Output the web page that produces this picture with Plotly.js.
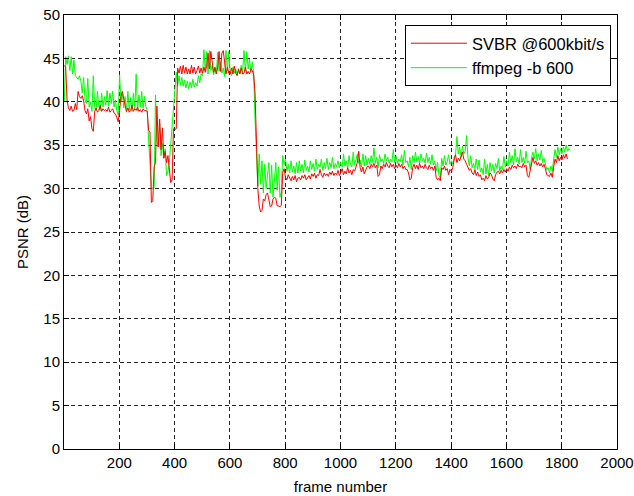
<!DOCTYPE html>
<html><head><meta charset="utf-8">
<script src="https://cdn.plot.ly/plotly-3.0.1.min.js"></script>
<style>html,body{margin:0;padding:0;background:#fff}</style>
</head><body>
<div id="chart" style="width:634px;height:496px"></div>
<script>
// frame sampling of the traces
const firstFrame = 1;
const frameStep = 5;

// PSNR (dB) of SVBR @600kbit/s, one value every frameStep frames
const svbrPsnr = [
44.2,44.0,40.2,39.3,39.0,39.5,38.9,39.0,39.8,39.1,
41.2,40.6,40.4,40.7,40.1,39.0,38.6,39.2,37.8,38.3,
36.9,36.6,38.9,39.3,38.8,39.0,39.6,38.9,39.2,39.0,
39.1,38.9,39.4,38.8,39.0,39.2,38.7,38.6,38.2,37.7,
39.0,40.6,41.2,40.2,39.6,38.9,39.3,38.8,39.0,39.6,
38.9,39.2,39.0,39.4,38.9,39.1,38.8,39.2,39.0,39.0,
38.9,36.7,36.5,28.4,28.6,32.5,33.0,39.5,34.8,38.0,
34.5,37.0,33.5,34.3,33.0,33.8,32.0,30.7,31.0,36.9,
36.8,36.9,43.9,43.3,44.1,43.2,44.2,43.3,44.0,43.2,
43.8,43.2,44.2,43.3,44.0,43.2,43.6,44.1,43.3,43.9,
43.3,44.0,43.4,44.1,45.6,43.8,45.8,44.3,43.4,44.0,
43.2,44.0,45.8,43.5,45.6,45.9,44.2,43.2,44.0,43.3,
43.2,43.9,43.2,44.1,43.3,43.0,43.8,43.2,43.9,43.2,
43.3,44.0,43.2,43.5,43.2,43.8,43.6,43.1,41.0,36.0,
30.0,28.0,27.3,27.5,28.8,28.6,29.3,29.5,28.6,27.9,
28.0,28.8,29.0,28.9,28.0,28.0,27.9,28.1,31.8,32.3,
31.3,31.0,31.6,31.2,30.9,31.4,31.0,31.5,30.8,31.2,
31.3,31.0,31.5,31.2,31.6,31.0,31.3,31.5,31.1,31.7,
31.4,31.8,31.2,31.6,31.5,32.2,31.6,31.3,31.8,31.5,
31.7,31.4,31.9,31.6,32.0,31.5,31.8,31.6,32.1,31.5,
31.8,32.3,31.6,32.0,31.7,32.4,31.8,32.1,31.6,32.2,
32.0,32.6,33.0,34.3,32.4,31.9,32.5,31.7,32.1,32.5,
32.6,32.3,32.8,32.5,32.9,32.4,32.7,31.4,31.6,32.6,
32.3,32.8,32.5,33.0,32.6,32.4,32.9,32.5,32.8,32.3,
32.7,32.4,32.9,32.5,32.8,32.3,32.6,32.2,32.2,31.8,
31.0,31.2,32.4,32.8,32.3,32.7,32.2,32.9,32.4,32.6,
32.3,32.8,32.4,32.2,32.7,32.3,32.5,32.1,32.6,31.3,
31.0,31.2,30.9,32.4,32.2,32.6,32.1,32.3,31.6,32.2,
32.0,32.4,33.3,33.9,33.0,33.5,33.2,33.8,34.2,33.4,
33.2,32.8,32.4,32.1,32.3,31.8,31.6,32.2,31.5,31.9,
31.4,31.6,31.0,31.2,30.9,31.5,31.1,31.3,31.8,31.6,
31.1,30.9,31.6,31.9,32.0,31.7,32.1,31.8,32.2,31.9,
32.3,32.0,32.5,32.2,32.7,32.4,32.6,32.3,32.8,32.5,
32.6,32.4,32.9,32.5,32.7,31.5,31.3,32.0,33.0,33.6,
32.9,33.2,32.7,33.0,32.6,32.9,32.5,32.8,32.3,31.6,
31.5,31.4,31.8,31.3,32.5,33.4,33.0,33.8,33.2,33.6,
33.3,33.9,33.5,34.0,33.4
];

// PSNR (dB) of ffmpeg -b 600, one value every frameStep frames
const ffmpegPsnr = [
40.0,45.2,44.3,45.3,43.6,45.2,43.2,44.8,43.0,42.8,
42.6,43.0,42.4,41.0,42.8,40.2,39.8,42.7,39.4,40.0,
38.9,43.0,39.3,39.0,41.2,39.5,39.0,41.0,39.4,40.6,
39.6,41.3,39.5,41.0,39.8,41.2,39.4,40.2,39.0,38.5,
43.1,40.0,41.0,39.3,40.6,38.8,41.2,39.0,40.5,38.9,
41.0,39.2,43.2,39.0,40.8,39.4,41.2,39.3,40.6,39.5,
39.0,35.6,32.0,30.2,30.0,30.1,40.8,35.5,34.8,37.5,
33.8,35.2,33.5,34.6,31.5,32.0,33.0,35.0,37.5,39.8,
42.0,43.4,41.8,43.0,41.9,42.8,41.8,42.5,41.6,42.4,
41.5,42.3,41.6,42.6,41.7,42.2,41.8,43.0,42.2,43.2,
43.0,46.0,43.5,45.8,43.2,45.9,43.6,44.2,43.1,43.8,
43.2,45.7,43.5,44.6,43.3,43.9,42.9,45.9,43.6,45.8,
43.4,43.0,44.0,43.3,43.8,43.1,43.6,43.2,44.2,43.4,
45.9,43.5,45.8,43.8,44.9,43.4,44.6,43.3,38.0,33.5,
30.3,34.0,30.5,33.2,29.5,32.8,30.0,31.5,33.0,29.5,
32.7,29.0,31.0,33.0,29.8,32.5,29.0,29.6,33.8,32.8,
33.4,32.0,32.8,31.8,33.2,31.9,32.6,31.7,33.0,31.8,
33.2,32.0,32.8,31.8,33.3,32.1,32.6,31.9,33.2,32.2,
32.9,32.0,33.4,32.2,32.8,32.5,33.4,32.1,33.0,32.3,
33.5,32.2,33.0,32.4,33.6,32.3,32.9,32.5,33.2,32.4,
33.0,32.5,34.0,32.6,33.2,32.3,33.8,32.8,32.5,34.2,
32.7,33.5,34.0,32.9,33.3,32.5,34.0,32.6,33.8,32.7,
33.5,32.8,33.8,33.0,34.7,32.9,33.6,32.4,33.9,33.1,
33.4,32.9,34.0,33.2,33.6,32.9,33.4,33.1,34.5,33.0,
33.7,32.9,33.4,33.1,33.9,32.7,34.4,33.0,33.2,32.5,
33.6,32.2,33.8,33.0,34.2,33.1,33.7,32.9,34.0,33.2,
33.5,32.9,34.1,33.0,33.6,32.8,33.9,32.7,33.2,32.0,
33.0,31.5,31.2,33.5,32.6,33.8,32.7,33.1,33.9,32.8,
33.2,32.8,33.6,33.9,36.0,34.0,34.8,33.6,34.9,34.0,
34.3,36.1,33.5,32.6,33.8,32.4,32.9,32.3,33.4,32.2,
33.3,31.9,32.4,31.6,33.4,31.7,32.8,31.5,33.0,32.0,
32.8,31.8,32.9,32.3,33.5,32.0,32.6,32.2,33.7,32.5,
33.2,32.6,34.2,33.0,33.8,32.7,34.6,33.1,33.6,32.8,
34.5,33.0,33.6,32.9,34.3,33.0,33.2,32.2,33.6,34.2,
33.4,34.6,33.2,34.0,33.3,34.4,33.0,33.5,32.8,32.2,
32.4,31.8,32.6,32.0,33.4,34.5,33.6,34.8,33.9,34.6,
34.0,34.8,34.2,35.0,34.3,34.6,34.4
];

const seriesNames = ['SVBR @600kbit/s', 'ffmpeg -b 600'];
const xTickVals = [200,400,600,800,1000,1200,1400,1600,1800,2000];
const yTickVals = [0,5,10,15,20,25,30,35,40,45,50];
const xTitle = 'frame number';
const yTitle = 'PSNR (dB)';

function frameIndex(n) {
  const f = [];
  for (let i = 0; i < n; i++) f.push(firstFrame + i * frameStep);
  return f;
}

const FONT = 'Liberation Sans, Arial, sans-serif';

const traces = [
  { x: frameIndex(ffmpegPsnr.length), y: ffmpegPsnr, name: seriesNames[1], type: 'scatter', mode: 'lines',
    line: { color: '#00ff00', width: 1 } },
  { x: frameIndex(svbrPsnr.length), y: svbrPsnr, name: seriesNames[0], type: 'scatter', mode: 'lines',
    line: { color: '#ff0000', width: 1 } }
];

const axisCommon = {
  showline: true, linecolor: '#000', linewidth: 1, mirror: 'ticks',
  ticks: 'inside', ticklen: 5, tickcolor: '#000', tickwidth: 1,
  showgrid: true, gridcolor: '#222', gridwidth: 1, griddash: '4px,3px',
  zeroline: false, tickfont: { family: FONT, size: 15, color: '#000' }
};

const layout = {
  width: 634, height: 496,
  margin: { l: 64, r: 17, t: 15, b: 47, pad: 0 },
  paper_bgcolor: '#fff', plot_bgcolor: '#fff',
  showlegend: true,
  legend: { x: 0.989, xanchor: 'right', y: 0.977, yanchor: 'top',
    bgcolor: '#fff', bordercolor: '#000', borderwidth: 1, itemwidth: 56,
    traceorder: 'reversed', font: { family: FONT, size: 16.5, color: '#000' } },
  xaxis: Object.assign({}, axisCommon, { range: [0, 2000], tickmode: 'array', tickvals: xTickVals,
    title: { text: xTitle, font: { family: FONT, size: 15, color: '#000' }, standoff: 11 } }),
  yaxis: Object.assign({}, axisCommon, { range: [0, 50], tickmode: 'array', tickvals: yTickVals,
    title: { text: yTitle, font: { family: FONT, size: 15, color: '#000' }, standoff: 11 } })
};

Plotly.newPlot('chart', traces, layout, { staticPlot: true, displayModeBar: false });
</script>
</body></html>
